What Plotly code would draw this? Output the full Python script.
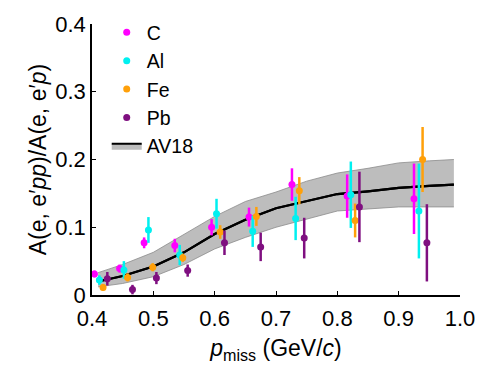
import plotly.graph_objects as go

# ---- data ----
c_p = [0.404, 0.445, 0.485, 0.535, 0.595, 0.656, 0.726, 0.816, 0.925]
c_v = [0.031, 0.039, 0.077, 0.073, 0.100, 0.115, 0.163, 0.146, 0.142]
c_e = [0.005, 0.006, 0.008, 0.010, 0.012, 0.014, 0.024, 0.032, 0.052]

al_p = [0.412, 0.452, 0.492, 0.543, 0.603, 0.662, 0.732, 0.822, 0.933]
al_v = [0.022, 0.037, 0.096, 0.059, 0.120, 0.094, 0.113, 0.148, 0.124]
al_e = [0.007, 0.013, 0.019, 0.015, 0.022, 0.023, 0.032, 0.049, 0.070]

fe_p = [0.418, 0.458, 0.499, 0.548, 0.609, 0.668, 0.738, 0.829, 0.939]
fe_v = [0.011, 0.026, 0.041, 0.055, 0.093, 0.116, 0.154, 0.110, 0.200]
fe_e = [0.005, 0.006, 0.006, 0.006, 0.010, 0.014, 0.020, 0.025, 0.048]

pb_p = [0.425, 0.466, 0.505, 0.556, 0.616, 0.675, 0.746, 0.836, 0.946]
pb_v = [0.024, 0.008, 0.025, 0.036, 0.077, 0.071, 0.084, 0.130, 0.077]
pb_e = [0.010, 0.007, 0.009, 0.009, 0.018, 0.021, 0.030, 0.052, 0.057]

av_p = [0.41, 0.45, 0.50, 0.55, 0.60, 0.65, 0.70, 0.75, 0.80, 0.85, 0.90, 0.95, 0.99]
av_mid = [0.020, 0.028, 0.042, 0.063, 0.090, 0.111, 0.128, 0.139, 0.149, 0.153, 0.158, 0.161, 0.163]
av_hi = [0.033, 0.045, 0.063, 0.090, 0.116, 0.138, 0.152, 0.168, 0.180, 0.187, 0.195, 0.198, 0.200]
av_lo = [0.012, 0.017, 0.027, 0.045, 0.068, 0.085, 0.100, 0.112, 0.124, 0.127, 0.130, 0.130, 0.130]

x_ticks = [0.4, 0.5, 0.6, 0.7, 0.8, 0.9, 1.0]
y_ticks = [0, 0.1, 0.2, 0.3, 0.4]
y_ticklabels = ["0", "0.1", "0.2", "0.3", "0.4"]

FONT = "Liberation Sans, Arial, Helvetica, sans-serif"
BAND = "#bdbdbd"

fig = go.Figure()

# theory band: lower edge, mean line (fills down to lower), upper edge (fills down to mean)
fig.add_trace(go.Scatter(x=av_p, y=av_lo, mode="lines", line=dict(color="#8c8c8c", width=0.8),
                         showlegend=False, hoverinfo="skip"))
fig.add_trace(go.Scatter(x=av_p, y=av_mid, mode="lines", name="AV18", legendgroup="zAV18",
                         line=dict(color="black", width=2.2),
                         fill="tonexty", fillcolor=BAND))
fig.add_trace(go.Scatter(x=av_p, y=av_hi, mode="lines", line=dict(color="#8c8c8c", width=0.8),
                         fill="tonexty", fillcolor=BAND, showlegend=False, hoverinfo="skip"))
# redraw mean line on top of the band
fig.add_trace(go.Scatter(x=av_p, y=av_mid, mode="lines", line=dict(color="black", width=2.2),
                         showlegend=False, hoverinfo="skip"))

series = [
    ("C", c_p, c_v, c_e, "#ff00ff"),
    ("Al", al_p, al_v, al_e, "#00f0f0"),
    ("Fe", fe_p, fe_v, fe_e, "#ffa00a"),
    ("Pb", pb_p, pb_v, pb_e, "#7f0f80"),
]
for i, (name, xs, ys, es, col) in enumerate(series):
    fig.add_trace(go.Scatter(
        x=xs, y=ys, mode="markers", name=name, legendgroup=f"{i}{name}",
        legendrank=i + 1,
        marker=dict(color=col, size=7),
        error_y=dict(type="data", array=es, color=col, thickness=2.5, width=0),
    ))
fig.data[1].legendrank = 10

fig.update_layout(
    width=487, height=369,
    margin=dict(l=92, r=19, t=22, b=74),
    paper_bgcolor="white", plot_bgcolor="white",
    font=dict(family=FONT, color="black", size=22),
    legend=dict(x=0.04, y=1.04, xanchor="left", yanchor="top",
                font=dict(size=19.5), bgcolor="rgba(0,0,0,0)",
                traceorder="normal", tracegroupgap=0),
    xaxis=dict(range=[0.4, 1.0], tickvals=x_ticks, tickformat=".1f",
               ticks="inside", ticklen=4, tickwidth=1.2, tickcolor="black",
               showline=True, linecolor="black", linewidth=1.5,
               showgrid=False, zeroline=False,
               tickfont=dict(size=22), ticklabelstandoff=3,
               title=dict(text="<i>p</i><sub>miss</sub> (GeV/<i>c</i>)", font=dict(size=23), standoff=10)),
    yaxis=dict(range=[0, 0.4], tickvals=y_ticks, ticktext=y_ticklabels,
               ticks="inside", ticklen=4, tickwidth=1.2, tickcolor="black",
               showline=True, linecolor="black", linewidth=1.5,
               showgrid=False, zeroline=False,
               tickfont=dict(size=22),
               title=dict(text="A(e, e′<i>pp</i>)/A(e, e′<i>p</i>)", font=dict(size=23), standoff=2)),
)

fig.write_html("out.html")
